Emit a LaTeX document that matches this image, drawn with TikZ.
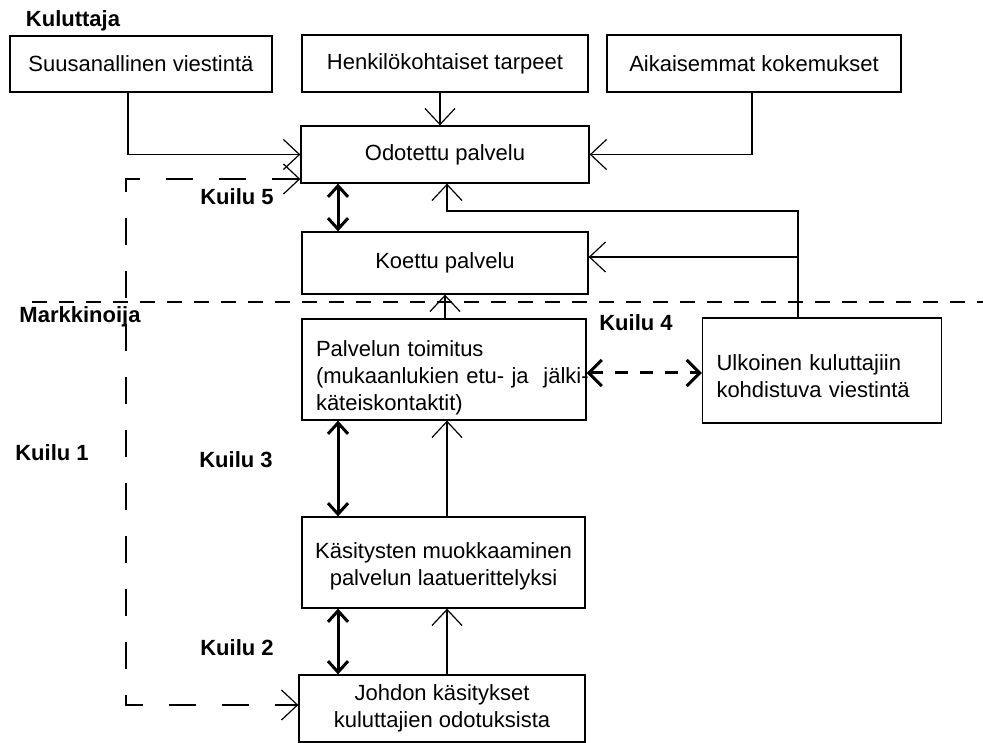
\documentclass[tikz,border=0pt]{standalone}
\usepackage{fontspec}
\setmainfont{Liberation Sans}
\usetikzlibrary{arrows.meta}
\begin{document}
\begin{tikzpicture}[x=1pt,y=-1pt,
  box/.style={draw, line width=1.3pt, inner sep=0pt, font=\fontsize{22}{27}\selectfont, align=center},
  lbox/.style={box, align=left, inner xsep=14pt},
  lbl/.style={font=\fontsize{22}{26}\selectfont\bfseries, inner sep=0pt},
  thinarrow/.style={line width=1.2pt, -{Straight Barb[length=16pt,width=30pt]}},
  gaparrow/.style={line width=3pt, {Straight Barb[length=11pt,width=20pt]}-{Straight Barb[length=11pt,width=20pt]}},
  gapdash/.style={line width=3pt, dash pattern=on 13pt off 12pt, {Straight Barb[length=13pt,width=26pt]}-{Straight Barb[length=13pt,width=26pt]}},
  longdash/.style={line width=1.2pt, dash pattern=on 27pt off 26pt, {Straight Barb[length=16pt,width=30pt]}-{Straight Barb[length=16pt,width=30pt]}},
  sepline/.style={line width=1.2pt, dash pattern=on 15pt off 12pt}
]
\useasboundingbox (0,0) rectangle (983,743);

% boxes
\node[box, minimum width=262pt, minimum height=56pt] (sv) at (141,64) {Suusanallinen viestintä};
\node[box, minimum width=286pt, minimum height=57pt] (hk) at (445,63.5) {Henkilökohtaiset tarpeet};
\node[box, minimum width=294pt, minimum height=57pt] (ak) at (754,63.5) {Aikaisemmat kokemukset};
\node[box, minimum width=288pt, minimum height=57pt] (od) at (445,154.5) {Odotettu palvelu};
\node[box, minimum width=286pt, minimum height=62pt] (ko) at (445,263) {Koettu palvelu};
\node[lbox, text width=256pt, minimum width=284pt, minimum height=101pt] (pt) at (444,369.5)
  {\rule{0pt}{32pt}Palvelun toimitus\\\mbox{(mukaanlukien etu- ja\ \ jälki-}\\käteiskontaktit)};
\node[lbox, text width=211pt, minimum width=239pt, minimum height=105pt] (ul) at (822,370.5)
  {\rule{0pt}{28pt}Ulkoinen kuluttajiin\\kohdistuva viestintä};
\node[box, minimum width=283pt, minimum height=91pt] (ks) at (443.5,562.5)
  {\rule{0pt}{24pt}Käsitysten muokkaaminen\\palvelun laatuerittelyksi};
\node[box, minimum width=286pt, minimum height=67pt] (jo) at (442,708.5)
  {Johdon käsitykset\\kuluttajien odotuksista};

% labels
\node[lbl] (kul) at (73,21) {Kuluttaja};
\node[lbl] (mar) at (80,317) {Markkinoija};
\node[lbl] (k5) at (237,197) {Kuilu 5};
\node[lbl] (k4) at (636,323) {Kuilu 4};
\node[lbl] (k3) at (236,460) {Kuilu 3};
\node[lbl] (k1) at (52,453) {Kuilu 1};
\node[lbl] (k2) at (237,648) {Kuilu 2};

% helper coordinates
\coordinate (xS) at (128,0);
\coordinate (xH) at (440,0);
\coordinate (xK) at (752,0);
\coordinate (xA) at (338,0);
\coordinate (xB) at (447,0);
\coordinate (xC) at (445,0);
\coordinate (fb) at (798,211);
\coordinate (fb2) at (798,257);
\coordinate (yD) at (0,373);
\coordinate (c1) at (126,179);
\coordinate (c2) at (126,705);
\coordinate (s1) at (32,302);
\coordinate (s2) at (983,302);

% separator
\draw[sepline] (s1) -- (s2);

% inputs to expected service
\draw[thinarrow] (sv.south -| xS) |- (od.west);
\draw[thinarrow] (hk.south -| xH) -- (od.north -| xH);
\draw[thinarrow] (ak.south -| xK) |- (od.east);

% external communication feedback
\draw[thinarrow] (ul.north -| fb) -- (fb) -| (od.south -| xB);
\draw[thinarrow] (fb2) -- (ko.east |- fb2);

% delivery to perceived
\draw[thinarrow] (pt.north -| xC) -- (ko.south -| xC);
\draw[thinarrow] (ks.north -| xB) -- (pt.south -| xB);
\draw[thinarrow] (jo.north -| xB) -- (ks.south -| xB);

% gaps
\draw[gaparrow] (od.south -| xA) -- (ko.north -| xA);
\draw[gaparrow] (pt.south -| xA) -- (ks.north -| xA);
\draw[gaparrow] (ks.south -| xA) -- (jo.north -| xA);
\draw[gapdash] (pt.east |- yD) -- (ul.west |- yD);
\draw[longdash] (od.west |- c1) -- (c1) -- (c2) -- (jo.west |- c2);
\end{tikzpicture}
\end{document}
